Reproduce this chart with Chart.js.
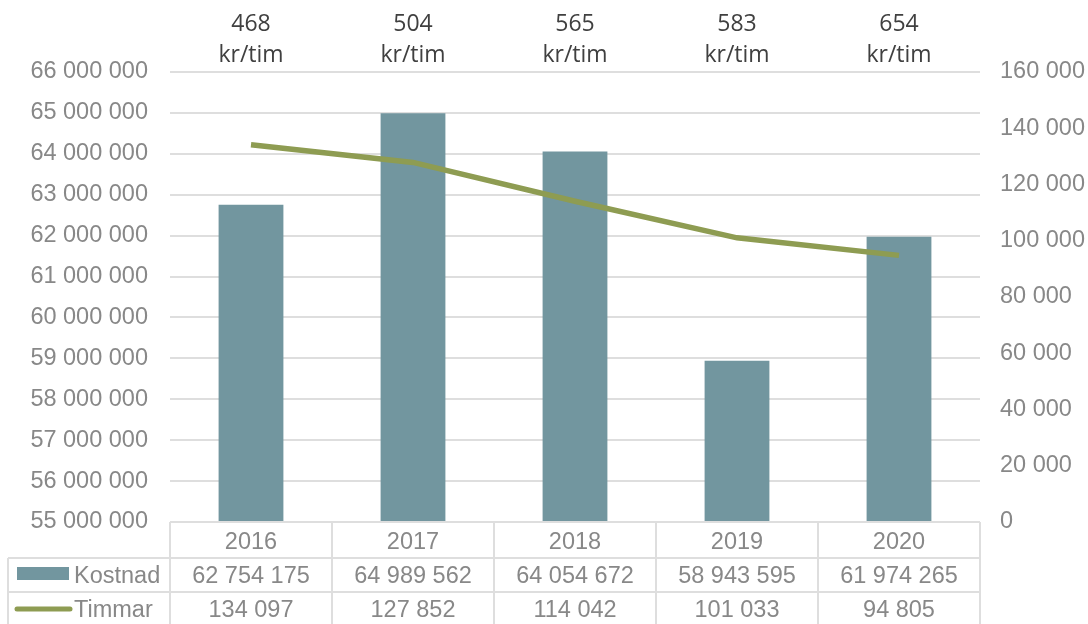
<!DOCTYPE html>
<html>
<head>
<meta charset="utf-8">
<script src="https://cdn.jsdelivr.net/npm/chart.js@4/dist/chart.umd.min.js"></script>
<style>
  body { margin: 0; background: #fff; }
  #wrap { width: 1088px; height: 624px; }
</style>
</head>
<body>
<div id="wrap"><canvas id="chart" width="1088" height="624"></canvas></div>
<script>
const years = ['2016', '2017', '2018', '2019', '2020'];
const kostnad = [62754175, 64989562, 64054672, 58943595, 61974265];
const timmar = [134097, 127852, 114042, 101033, 94805];
const krPerTim = [468, 504, 565, 583, 654];

const barColor = '#72969f';
const lineColor = '#8e9c52';
const gridColor = '#dedede';
const textGray = '#888888';
const numFont = '"Liberation Sans", Arial, sans-serif';

const fmt = v => String(v).replace(/\B(?=(\d{3})+(?!\d))/g, ' ');

// draws the data table under the plot and the kr/tim labels above it
const tablePlugin = {
    id: 'dataTable',
    afterDraw(chart) {
        const ctx = chart.ctx;
        const area = chart.chartArea;
        const x = chart.scales.x;
        const step = (area.right - area.left) / years.length;
        const rows = [area.bottom, area.bottom + 36, area.bottom + 70, area.bottom + 104];
        const left = 8;

        ctx.save();
        ctx.strokeStyle = gridColor;
        ctx.lineWidth = 2;
        ctx.beginPath();
        ctx.moveTo(area.left, rows[0]);
        ctx.lineTo(area.right, rows[0]);
        ctx.moveTo(left, rows[1]);
        ctx.lineTo(area.right, rows[1]);
        ctx.moveTo(left, rows[2]);
        ctx.lineTo(area.right, rows[2]);
        ctx.moveTo(left, rows[1]);
        ctx.lineTo(left, rows[3]);
        for (let i = 0; i <= years.length; i++) {
            const px = area.left + step * i;
            ctx.moveTo(px, rows[0]);
            ctx.lineTo(px, rows[3]);
        }
        ctx.stroke();

        ctx.fillStyle = textGray;
        ctx.font = '23.5px ' + numFont;
        ctx.textAlign = 'center';
        ctx.textBaseline = 'middle';
        years.forEach((y, i) => {
            const cx = x.getPixelForValue(i);
            ctx.fillText(y, cx, (rows[0] + rows[1]) / 2 + 3);
            ctx.fillText(fmt(kostnad[i]), cx, (rows[1] + rows[2]) / 2 + 2);
            ctx.fillText(fmt(timmar[i]), cx, (rows[2] + rows[3]) / 2 + 2);
        });

        // legend keys
        ctx.fillStyle = barColor;
        ctx.fillRect(17, 567, 52, 13);
        ctx.strokeStyle = lineColor;
        ctx.lineWidth = 5;
        ctx.lineCap = 'round';
        ctx.beginPath();
        ctx.moveTo(17, 609);
        ctx.lineTo(70, 609);
        ctx.stroke();
        ctx.fillStyle = textGray;
        ctx.textAlign = 'left';
        ctx.fillText('Kostnad', 74, (rows[1] + rows[2]) / 2 + 2);
        ctx.fillText('Timmar', 74, (rows[2] + rows[3]) / 2 + 2);

        // kr/tim labels on top
        ctx.fillStyle = '#404040';
        ctx.font = '23px "Open Sans", Carlito, sans-serif';
        ctx.textAlign = 'center';
        krPerTim.forEach((v, i) => {
            const cx = x.getPixelForValue(i);
            ctx.fillText(String(v), cx, 24);
            ctx.fillText('kr/tim', cx, 55);
        });
        ctx.restore();
    }
};

new Chart(document.getElementById('chart'), {
    data: {
        labels: years,
        datasets: [
            {
                type: 'line',
                label: 'Timmar',
                data: timmar,
                yAxisID: 'y1',
                borderColor: lineColor,
                borderWidth: 5.5,
                pointRadius: 0,
                tension: 0,
                order: 0
            },
            {
                type: 'bar',
                label: 'Kostnad',
                data: kostnad,
                yAxisID: 'y',
                backgroundColor: barColor,
                categoryPercentage: 1,
                barPercentage: 0.4,
                order: 1
            }
        ]
    },
    options: {
        responsive: false,
        animation: false,
        layout: { padding: { top: 72, bottom: 102, left: 0, right: 0 } },
        plugins: {
            legend: { display: false },
            tooltip: { enabled: false }
        },
        scales: {
            x: {
                display: false
            },
            y: {
                position: 'left',
                min: 55000000,
                max: 66000000,
                afterFit: s => { s.width = 170; },
                border: { display: false },
                grid: { color: gridColor, lineWidth: 2, drawTicks: false },
                ticks: {
                    stepSize: 1000000,
                    padding: 22,
                    color: textGray,
                    font: { family: numFont, size: 23.5 },
                    callback: v => fmt(v)
                }
            },
            y1: {
                position: 'right',
                min: 0,
                max: 160000,
                afterFit: s => { s.width = 108; },
                border: { display: false },
                grid: { display: false, drawTicks: false },
                ticks: {
                    stepSize: 20000,
                    padding: 20,
                    color: textGray,
                    font: { family: numFont, size: 23.5 },
                    callback: v => fmt(v)
                }
            }
        }
    },
    plugins: [tablePlugin]
});
</script>
</body>
</html>
